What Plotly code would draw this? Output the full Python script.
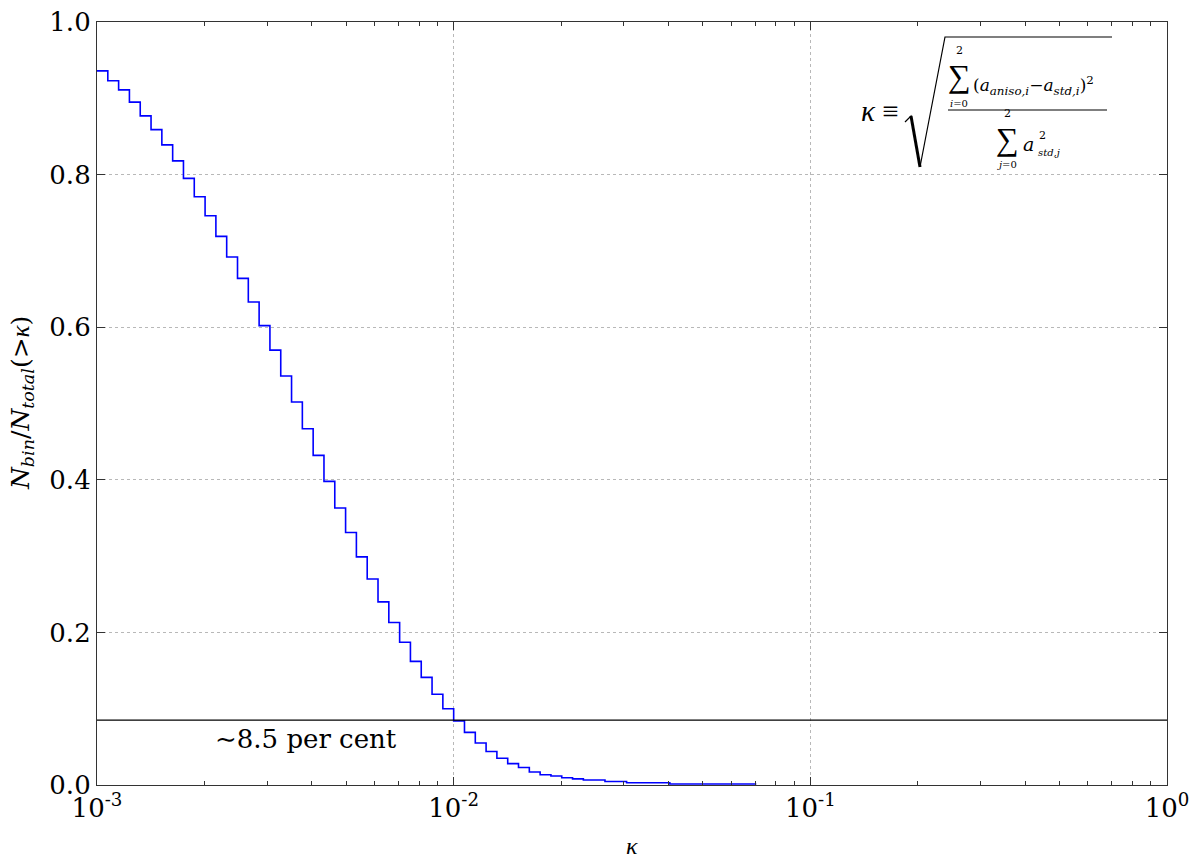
import plotly.graph_objects as go

# ---- data ----
# histogram bin edges in kappa (log-spaced, 33 per decade)
bin_edges = [
    0.0010000, 0.0010723, 0.0011498, 0.0012328, 0.0013219, 0.0014175, 0.0015199, 0.0016298,
    0.0017475, 0.0018738, 0.0020092, 0.0021544, 0.0023101, 0.0024771, 0.0026561, 0.0028480,
    0.0030539, 0.0032745, 0.0035112, 0.0037649, 0.0040370, 0.0043288, 0.0046416, 0.0049770,
    0.0053367, 0.0057224, 0.0061359, 0.0065793, 0.0070548, 0.0075646, 0.0081113, 0.0086975,
    0.0093260, 0.0100000, 0.0107230, 0.0114980, 0.0123280, 0.0132190, 0.0141750, 0.0151990,
    0.0162980, 0.0174750, 0.0187380, 0.0200920, 0.0215440, 0.0231010, 0.0247710, 0.0265610,
    0.0284800, 0.0305390, 0.0327450, 0.0351120, 0.0376490, 0.0403700, 0.0432880, 0.0464160,
    0.0497700, 0.0533670, 0.0572240, 0.0613590, 0.0657930, 0.0705480,
]
# cumulative fraction N(>kappa) per bin
frac_above = [
    0.936, 0.923, 0.911, 0.895, 0.877, 0.859, 0.839, 0.818, 0.795, 0.771,
    0.746, 0.719, 0.692, 0.664, 0.633, 0.602, 0.570, 0.536, 0.502, 0.467,
    0.432, 0.398, 0.363, 0.331, 0.299, 0.270, 0.240, 0.213, 0.187, 0.162,
    0.141, 0.119, 0.100, 0.084, 0.069, 0.055, 0.044, 0.035, 0.028, 0.023,
    0.017, 0.0135, 0.0118, 0.0095, 0.0080, 0.0066, 0.0066, 0.0045, 0.0045, 0.0030,
    0.0030, 0.0030, 0.0030, 0.0013, 0.0013, 0.0013, 0.0013, 0.0013, 0.0013, 0.0013,
    0.0013,
]
threshold = 0.085
threshold_label = "∼8.5 per cent"

x_tickvals = [0.001, 0.01, 0.1, 1.0]
x_ticktext = ["10<sup>-3</sup>", "10<sup>-2</sup>", "10<sup>-1</sup>", "10<sup>0</sup>"]
x_minor_tickvals = [m * d for d in (0.001, 0.01, 0.1) for m in range(2, 10)]
y_tickvals = [0.0, 0.2, 0.4, 0.6, 0.8, 1.0]
y_ticktext = ["0.0", "0.2", "0.4", "0.6", "0.8", "1.0"]

# ---- layout geometry ----
W, H = 1199, 861
ML, MR, MT, MB = 97, 32, 22, 76
PW, PH = W - ML - MR, H - MT - MB
SERIF = "DejaVu Serif"
GREEK = "Liberation Serif"


def px(xp):
    return (xp - ML) / PW


def py(yp):
    return (MT + PH - yp) / PH


xs = list(bin_edges[:-1]) + [bin_edges[-1]]
ys = list(frac_above) + [frac_above[-1]]

fig = go.Figure()
fig.add_trace(go.Scatter(
    x=xs, y=ys, mode="lines", line=dict(color="#0000ff", width=1.6, shape="hv"),
    showlegend=False, hoverinfo="skip",
))
fig.add_hline(y=threshold, line=dict(color="black", width=1.4), layer="above")

axis_common = dict(
    showline=True, linecolor="#333333", linewidth=1.2, mirror="allticks",
    ticks="inside", ticklen=8, tickcolor="#333333", tickwidth=1,
    showgrid=True, gridcolor="#b8b8b8", griddash="dot", gridwidth=1,
    zeroline=False, tickfont=dict(family=SERIF, size=26, color="black"),
)

fig.update_xaxes(
    type="log", range=[-3, 0], tickvals=x_tickvals, ticktext=x_ticktext,
    minor=dict(tickvals=x_minor_tickvals, ticks="inside", ticklen=4,
               tickcolor="#333333", showgrid=False),
    **axis_common,
)
fig.update_yaxes(
    range=[0, 1], tickvals=y_tickvals, ticktext=y_ticktext, **axis_common,
)

BLACK = "black"


def A(text, xp, yp, size, family=SERIF, xanchor="center", angle=0):
    return dict(text=text, x=px(xp), y=py(yp), xref="paper", yref="paper",
                xanchor=xanchor, yanchor="middle", showarrow=False, textangle=angle,
                font=dict(family=family, size=size, color=BLACK))


ann = [
    # axis titles
    A("<i>κ</i>", 632, 846, 24, family=GREEK),
    A("<i>N</i><sub><i>bin</i></sub>/<i>N</i><sub><i>total</i></sub>(><i><span style='font-family:Liberation Serif'>κ</span></i>)",
      22, 403, 25, angle=-90),
    # threshold label
    A(threshold_label, 306, 739, 26),
    # formula
    A("<i>κ</i> ≡", 880, 111, 29, family=GREEK),
    A("∑", 959, 76, 32, family=GREEK),
    A("2", 959, 50, 11),
    A("<i>i</i>=0", 959, 103, 10),
    A("(<i>a</i><sub><i>aniso,i</i></sub>−<i>a</i><sub><i>std,i</i></sub>)<sup>2</sup>",
      971, 86, 17, xanchor="left"),
    A("∑", 1007, 139, 32, family=GREEK),
    A("2", 1007, 114, 11),
    A("<i>j</i>=0", 1007, 165, 10),
    A("<i>a</i>", 1028, 144, 19),
    A("2", 1037, 135, 11, xanchor="left"),
    A("<i>std,j</i>", 1036, 152, 10, xanchor="left"),
]
fig.update_layout(annotations=ann)

# radical sign and fraction bar (decoration of the formula)
pts = [(905, 122), (911, 116), (920, 167), (945, 37), (1112, 37)]
path = "M " + " L ".join(f"{px(a):.5f},{py(b):.5f}" for a, b in pts)
fig.add_shape(type="path", path=path, xref="paper", yref="paper",
              line=dict(color="black", width=1.2))
fig.add_shape(type="line", x0=px(911), y0=py(116), x1=px(920), y1=py(167),
              xref="paper", yref="paper", line=dict(color="black", width=3))
fig.add_shape(type="line", x0=px(948), y0=py(110), x1=px(1107), y1=py(110),
              xref="paper", yref="paper", line=dict(color="black", width=1.2))

fig.update_layout(
    width=W, height=H, margin=dict(l=ML, r=MR, t=MT, b=MB, autoexpand=False),
    paper_bgcolor="white", plot_bgcolor="white", showlegend=False,
)
fig.write_html("out.html")
